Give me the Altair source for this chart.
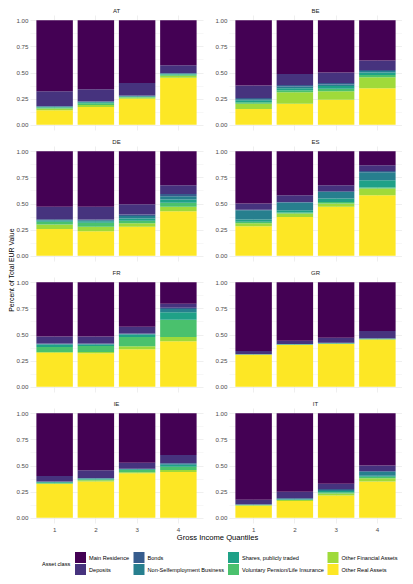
import altair as alt
import pandas as pd

countries = ["AT", "BE", "DE", "ES", "FR", "GR", "IE", "IT"]
quantiles = ["1", "2", "3", "4"]
# stacking order, bottom to top
classes = ["Other Real Assets", "Other Financial Assets", "Voluntary Pension/Life Insurance",
           "Shares, publicly traded", "Non-Selfemployment Business", "Bonds", "Deposits",
           "Main Residence"]
# legend order (as in reference: column-wise 2 rows)
legend_order = ["Main Residence", "Bonds", "Shares, publicly traded", "Other Financial Assets",
                "Deposits", "Non-Selfemployment Business", "Voluntary Pension/Life Insurance",
                "Other Real Assets"]
legend_colors = ["#440154", "#365C8D", "#1FA187", "#9FDA3A",
                 "#46337E", "#277F8E", "#4AC16D", "#FDE725"]

# shares per quantile, listed bottom to top in the order of `classes`
AT = [[0.140, 0.015, 0.010, 0.005, 0.005, 0.005, 0.140, 0.680],
      [0.170, 0.020, 0.015, 0.010, 0.005, 0.005, 0.115, 0.660],
      [0.250, 0.010, 0.005, 0.005, 0.005, 0.005, 0.120, 0.600],
      [0.450, 0.020, 0.010, 0.005, 0.005, 0.005, 0.075, 0.430]]
BE = [[0.150, 0.050, 0.015, 0.020, 0.010, 0.010, 0.120, 0.625],
      [0.200, 0.110, 0.020, 0.020, 0.015, 0.015, 0.105, 0.515],
      [0.240, 0.080, 0.025, 0.025, 0.015, 0.015, 0.100, 0.500],
      [0.350, 0.105, 0.020, 0.025, 0.015, 0.010, 0.090, 0.385]]
DE = [[0.255, 0.045, 0.025, 0.012, 0.006, 0.007, 0.120, 0.530],
      [0.235, 0.042, 0.038, 0.015, 0.010, 0.007, 0.123, 0.530],
      [0.277, 0.033, 0.025, 0.022, 0.023, 0.015, 0.099, 0.506],
      [0.427, 0.041, 0.038, 0.032, 0.032, 0.020, 0.085, 0.325]]
ES = [[0.283, 0.027, 0.015, 0.022, 0.089, 0.004, 0.060, 0.500],
      [0.370, 0.035, 0.009, 0.022, 0.074, 0.005, 0.065, 0.420],
      [0.468, 0.032, 0.015, 0.033, 0.062, 0.008, 0.057, 0.325],
      [0.580, 0.063, 0.010, 0.070, 0.077, 0.010, 0.056, 0.134]]
FR = [[0.326, 0.006, 0.048, 0.025, 0.005, 0.005, 0.065, 0.520],
      [0.320, 0.012, 0.058, 0.015, 0.005, 0.005, 0.065, 0.520],
      [0.358, 0.029, 0.089, 0.024, 0.005, 0.005, 0.065, 0.425],
      [0.435, 0.041, 0.166, 0.070, 0.033, 0.012, 0.038, 0.205]]
GR = [[0.307, 0.001, 0.001, 0.001, 0.001, 0.002, 0.029, 0.658],
      [0.400, 0.002, 0.002, 0.002, 0.002, 0.002, 0.030, 0.560],
      [0.410, 0.002, 0.002, 0.002, 0.002, 0.002, 0.050, 0.530],
      [0.450, 0.005, 0.002, 0.002, 0.002, 0.002, 0.071, 0.466]]
IE = [[0.323, 0.006, 0.006, 0.007, 0.003, 0.003, 0.052, 0.600],
      [0.348, 0.012, 0.007, 0.006, 0.004, 0.003, 0.074, 0.546],
      [0.425, 0.010, 0.022, 0.006, 0.004, 0.003, 0.057, 0.473],
      [0.437, 0.020, 0.032, 0.019, 0.009, 0.007, 0.076, 0.400]]
IT = [[0.115, 0.005, 0.002, 0.002, 0.002, 0.004, 0.043, 0.827],
      [0.160, 0.010, 0.003, 0.005, 0.005, 0.005, 0.062, 0.750],
      [0.214, 0.019, 0.010, 0.013, 0.009, 0.010, 0.051, 0.674],
      [0.347, 0.031, 0.015, 0.010, 0.038, 0.006, 0.053, 0.500]]

values = {"AT": AT, "BE": BE, "DE": DE, "ES": ES, "FR": FR, "GR": GR, "IE": IE, "IT": IT}

rows = []
for c in countries:
    for qi, q in enumerate(quantiles):
        for k, cls in enumerate(classes):
            rows.append({"country": c, "q": q, "cls": cls, "rank": k, "value": values[c][qi][k]})
df = pd.DataFrame(rows)

FONT = "Liberation Sans"
GRID = "#EBEBEB"

bars = alt.Chart(df).mark_bar(strokeWidth=0).encode(
    x=alt.X("q:N", sort=quantiles,
            scale=alt.Scale(paddingInner=0.116, paddingOuter=0.155),
            axis=alt.Axis(title=None, labelAngle=0, labelFontSize=6.2, labelColor="#4D4D4D",
                          labelPadding=3, ticks=False, domain=False, grid=True,
                          gridColor=GRID, gridWidth=0.8, labelFont=FONT)),
    y=alt.Y("value:Q", stack="zero",
            scale=alt.Scale(domain=[-0.05, 1.05], nice=False, zero=False),
            axis=alt.Axis(title=None, values=[0, 0.125, 0.25, 0.375, 0.5, 0.625, 0.75, 0.875, 1],
                          format=".2f",
                          labelExpr="datum.value % 0.25 === 0 ? datum.label : ''",
                          labelFontSize=6.2, labelColor="#4D4D4D", labelPadding=2,
                          ticks=False, domain=False, grid=True, gridColor=GRID,
                          gridWidth=alt.condition("datum.value % 0.25 === 0", alt.value(0.8), alt.value(0.4)),
                          labelFont=FONT)),
    color=alt.Color("cls:N",
                    scale=alt.Scale(domain=legend_order, range=legend_colors),
                    legend=alt.Legend(title="Asset class", orient="none", legendX=12, legendY=537,
                                      direction="horizontal", columns=4, symbolType="square",
                                      symbolSize=121, symbolStrokeWidth=0, symbolOpacity=1,
                                      labelFontSize=5.6, titleFontSize=5.6, titleFontWeight="normal",
                                      titleOrient="left", titleAnchor="middle", titleBaseline="middle",
                                      titlePadding=4,
                                      columnPadding=3.5, rowPadding=1, labelOffset=3,
                                      labelFont=FONT, titleFont=FONT, labelColor="#000000",
                                      titleColor="#000000")),
    order=alt.Order("rank:Q"),
).properties(width=173, height=115)

facet = bars.facet(
    facet=alt.Facet("country:N", sort=countries, title=None,
                    header=alt.Header(labelFontSize=6, labelColor="#1A1A1A", labelPadding=1,
                                      labelFont=FONT)),
    columns=2,
    spacing={"row": 9, "column": 11},
).resolve_axis(y="independent").properties(
    title=alt.TitleParams("Percent of Total EUR Value", orient="left", anchor="middle",
                          fontSize=6.9, fontWeight="normal", font=FONT, color="#000000", offset=0)
)

xtitle = alt.Chart(pd.DataFrame({"t": ["Gross Income Quantiles"]})).mark_text(
    fontSize=7.6, font=FONT, color="#000000", baseline="top", align="center"
).encode(text="t:N", x=alt.value(187.5), y=alt.value(1)).properties(width=1, height=10)

chart = alt.vconcat(facet, xtitle, spacing=0).properties(padding=0).configure_view(stroke=None)

chart.save("out.html", embed_options={"renderer": "svg", "actions": False})
